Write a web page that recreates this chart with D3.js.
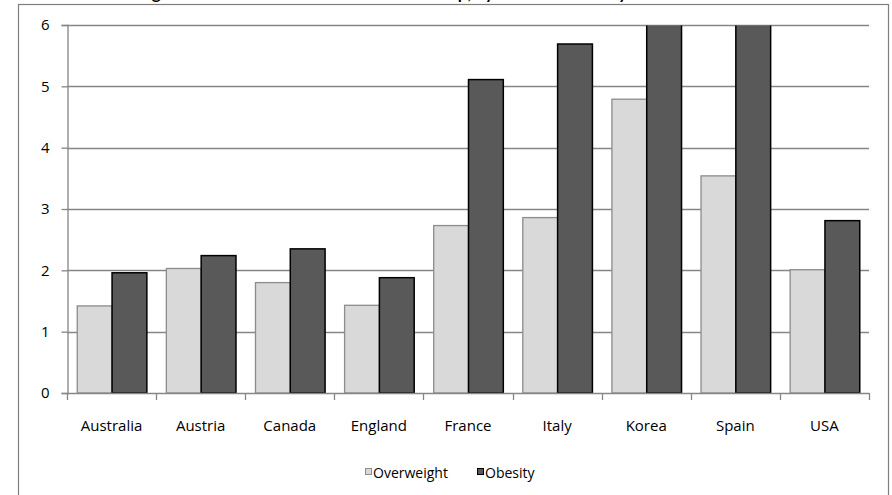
<!DOCTYPE html>
<html>
<head>
<meta charset="utf-8">
<script src="https://cdn.jsdelivr.net/npm/d3@7/dist/d3.min.js"></script>
<style>
  html, body { margin: 0; padding: 0; background: #fff; }
  svg { display: block; font-family: "Open Sans", Lato, sans-serif; }
</style>
</head>
<body>
<svg id="chart" width="892" height="495"></svg>
<script>
// Cost ratio relative to normal weight, by country
const countries = ["Australia", "Austria", "Canada", "England", "France", "Italy", "Korea", "Spain", "USA"];
const overweight = [1.42, 2.03, 1.80, 1.43, 2.73, 2.86, 4.79, 3.54, 2.01];
const obesity = [1.96, 2.24, 2.35, 1.88, 5.11, 5.69, 6.6, 7.2, 2.81];
const seriesNames = ["Overweight", "Obesity"];
const yTicks = [0, 1, 2, 3, 4, 5, 6];
const titleText = "Average Health Costs Relative to Normal Group, by Member Country";

const svg = d3.select("#chart");
const plot = { left: 67, right: 869, top: 25, bottom: 393 };

const fills = { Overweight: "#d9d9d9", Obesity: "#595959" };
const strokes = { Overweight: "#8c8c8c", Obesity: "#000000" };

// outer chart frame
svg.append("rect")
  .attr("x", 18.5).attr("y", 4.5)
  .attr("width", 870).attr("height", 520)
  .attr("fill", "#fff").attr("stroke", "#7f7f7f").attr("stroke-width", 1.2);

// title (sits above the frame, partly outside the page)
svg.append("text")
  .attr("x", 108).attr("y", -1)
  .attr("font-family", "Lato, 'Open Sans', sans-serif")
  .attr("font-weight", "bold").attr("font-size", 17)
  .attr("fill", "#000")
  .text(titleText);

const x0 = d3.scaleBand().domain(countries).range([plot.left, plot.right]).paddingInner(0).paddingOuter(0);
const x1 = d3.scaleBand().domain(seriesNames).range([0, x0.bandwidth()]).paddingInner(0).paddingOuter(0.28);
const y = d3.scaleLinear().domain([0, 6]).range([plot.bottom, plot.top]);

// gridlines
svg.append("g").selectAll("line").data(yTicks.filter(d => d > 0)).join("line")
  .attr("x1", plot.left).attr("x2", plot.right)
  .attr("y1", d => Math.round(y(d)) + 0.5).attr("y2", d => Math.round(y(d)) + 0.5)
  .attr("stroke", "#868686").attr("stroke-width", 1.3);

svg.append("clipPath").attr("id", "plotclip")
  .append("rect").attr("x", plot.left).attr("y", plot.top + 0.5)
  .attr("width", plot.right - plot.left).attr("height", plot.bottom - plot.top);

const rows = countries.map((c, i) => ({ country: c, values: [
  { key: "Overweight", value: overweight[i] },
  { key: "Obesity", value: obesity[i] }
]}));

const groups = svg.append("g").attr("clip-path", "url(#plotclip)")
  .selectAll("g").data(rows).join("g")
  .attr("transform", d => `translate(${x0(d.country)},0)`);

groups.selectAll("rect").data(d => d.values).join("rect")
  .attr("x", d => x1(d.key) + 0.5)
  .attr("width", x1.bandwidth())
  .attr("y", d => y(d.value))
  .attr("height", d => y(0) - y(d.value))
  .attr("fill", d => fills[d.key])
  .attr("stroke", d => strokes[d.key])
  .attr("stroke-width", d => d.key === "Obesity" ? 1.5 : 1.3);

// y axis
const yAxis = svg.append("g").attr("transform", `translate(${plot.left + 0.5},0)`)
  .call(d3.axisLeft(y).tickValues(yTicks).tickSize(6).tickPadding(12).tickFormat(d3.format("d")));
yAxis.attr("font-family", null);
yAxis.select(".domain").attr("stroke", "#868686").attr("stroke-width", 1.3);
yAxis.selectAll(".tick line").attr("stroke", "#868686").attr("stroke-width", 1.3);
yAxis.selectAll(".tick text").attr("font-size", 15).attr("fill", "#000");

// x axis: ticks at category boundaries
const xAxisG = svg.append("g");
xAxisG.append("line")
  .attr("x1", plot.left).attr("x2", plot.right + 0.5)
  .attr("y1", plot.bottom + 0.5).attr("y2", plot.bottom + 0.5)
  .attr("stroke", "#868686").attr("stroke-width", 1.3);
const boundaries = countries.map(c => x0(c)).concat([x0(countries[countries.length - 1]) + x0.bandwidth()]);
xAxisG.selectAll("line.tk").data(boundaries).join("line").attr("class", "tk")
  .attr("x1", d => Math.round(d) + 0.5).attr("x2", d => Math.round(d) + 0.5)
  .attr("y1", plot.bottom).attr("y2", plot.bottom + 7)
  .attr("stroke", "#868686").attr("stroke-width", 1.3);
xAxisG.selectAll("text").data(countries).join("text")
  .attr("x", d => x0(d) + x0.bandwidth() / 2)
  .attr("y", 431)
  .attr("text-anchor", "middle").attr("font-size", 15).attr("fill", "#000")
  .text(d => d);

// legend
const legend = svg.append("g");
const legendItems = [
  { key: "Overweight", sx: 365, tx: 373 },
  { key: "Obesity", sx: 477, tx: 485 }
];
legend.selectAll("rect").data(legendItems).join("rect")
  .attr("x", d => d.sx + 0.5).attr("y", 468.5)
  .attr("width", 6).attr("height", 6)
  .attr("fill", d => fills[d.key]).attr("stroke", d => strokes[d.key]);
legend.selectAll("text").data(legendItems).join("text")
  .attr("x", d => d.tx).attr("y", 478)
  .attr("font-size", 14).attr("fill", "#000")
  .text(d => d.key);
</script>
</body>
</html>
